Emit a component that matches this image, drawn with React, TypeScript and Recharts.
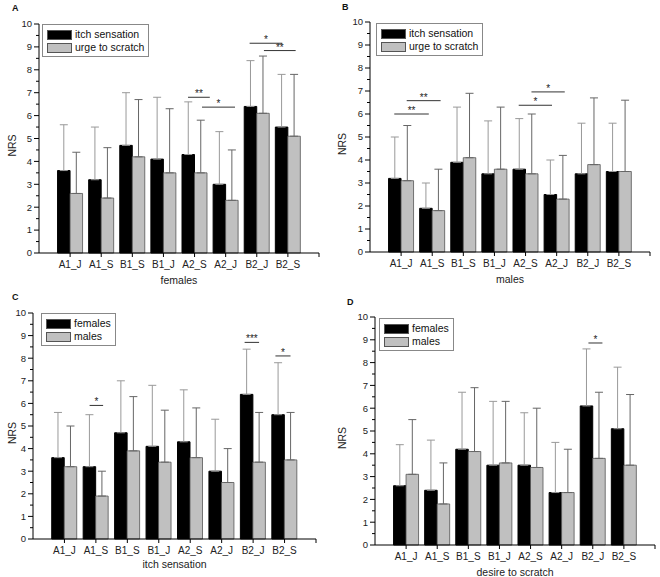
import React from 'react';
import {
  BarChart,
  Bar,
  XAxis,
  YAxis,
  ErrorBar,
  Legend,
  ReferenceLine,
  Label
} from 'recharts';

const categories = ['A1_J', 'A1_S', 'B1_S', 'B1_J', 'A2_S', 'A2_J', 'B2_J', 'B2_S'];

// means and SD (upper error only)
const femaleItch = [3.6, 3.2, 4.7, 4.1, 4.3, 3.0, 6.4, 5.5];
const femaleItchSd = [2.0, 2.3, 2.3, 2.7, 2.3, 2.3, 2.0, 2.3];
const femaleUrge = [2.6, 2.4, 4.2, 3.5, 3.5, 2.3, 6.1, 5.1];
const femaleUrgeSd = [1.8, 2.2, 2.5, 2.8, 2.3, 2.2, 2.5, 2.7];
const maleItch = [3.2, 1.9, 3.9, 3.4, 3.6, 2.5, 3.4, 3.5];
const maleItchSd = [1.8, 1.1, 2.4, 2.3, 2.2, 1.5, 2.2, 2.1];
const maleUrge = [3.1, 1.8, 4.1, 3.6, 3.4, 2.3, 3.8, 3.5];
const maleUrgeSd = [2.4, 1.8, 2.8, 2.7, 2.6, 1.9, 2.9, 3.1];

const yTicks = [0, 0.5, 1, 1.5, 2, 2.5, 3, 3.5, 4, 4.5, 5, 5.5, 6, 6.5, 7, 7.5, 8, 8.5, 9, 9.5, 10];
const xTicks = [1, 2, 3, 4, 5, 6, 7, 8, 9];

// significance bars: x in category units, y in NRS
const sigA = [
  { x1: 4.79, x2: 5.49, y: 6.8, text: '**' },
  { x1: 5.24, x2: 6.3, y: 6.37, text: '*' },
  { x1: 6.77, x2: 7.82, y: 9.16, text: '*' },
  { x1: 7.23, x2: 8.25, y: 8.84, text: '**' }
];
const sigB = [
  { x1: 0.78, x2: 1.89, y: 6.0, text: '**' },
  { x1: 1.18, x2: 2.27, y: 6.58, text: '**' },
  { x1: 4.78, x2: 5.85, y: 6.38, text: '*' },
  { x1: 5.19, x2: 6.26, y: 6.96, text: '*' }
];
const sigC = [
  { x1: 1.8, x2: 2.23, y: 5.91, text: '*' },
  { x1: 6.73, x2: 7.19, y: 8.7, text: '***' },
  { x1: 7.71, x2: 8.19, y: 8.1, text: '*' }
];
const sigD = [{ x1: 6.86, x2: 7.31, y: 8.86, text: '*' }];

const FONT = '"Liberation Sans", Arial, sans-serif';
const GRAY = '#c0c0c0';

const YTick = ({ x, y, payload }: any) => {
  const major = Number.isInteger(payload.value);
  return (
    <g>
      <line x1={x - (major ? 5 : 3)} x2={x} y1={y} y2={y} stroke="#000" />
      {major && (
        <text x={x - 7} y={y} dy="0.35em" textAnchor="end" fontSize={9.5} fill="#222">
          {payload.value}
        </text>
      )}
    </g>
  );
};

const LegendBox = ({ payload }: any) => (
  <div
    style={{
      border: '1px solid #888',
      padding: '3px 4px 2px 4px',
      background: '#fff',
      fontFamily: FONT,
      fontSize: 10.5,
      lineHeight: '13px',
      color: '#111'
    }}
  >
    {(payload || []).map((p: any, i: number) => (
      <div key={i} style={{ display: 'flex', alignItems: 'center' }}>
        <span
          style={{
            display: 'inline-block',
            width: 23,
            height: 8,
            background: i ? GRAY : '#000',
            border: '0.5px solid #555',
            marginRight: 3
          }}
        />
        {p.value}
      </div>
    ))}
  </div>
);

const Panel = ({
  letter, left, top, height, margin, yWidth, xHeight, titleOffset, title,
  names, s1, e1, s2, e2, sig, legendPos
}: any) => {
  const data = categories.map((c, i) => ({
    pos: i + 1,
    name: c,
    a: s1[i],
    aErr: [0, e1[i]],
    b: s2[i],
    bErr: [0, e2[i]]
  }));
  return (
    <div style={{ position: 'absolute', left, top, width: 330, height }}>
      <span
        style={{
          position: 'absolute', left: letter.x, top: letter.y, fontFamily: FONT,
          fontWeight: 'bold', fontSize: 9, color: '#111', lineHeight: 1
        }}
      >
        {letter.t}
      </span>
      <BarChart
        width={330}
        height={height}
        data={data}
        margin={margin}
        barGap={0}
        barSize={12.5}
        style={{ fontFamily: FONT }}
      >
        <XAxis
          type="number"
          dataKey="pos"
          domain={[0, 9]}
          ticks={xTicks}
          interval={0}
          tickFormatter={(v: number) => categories[v - 1] ?? ''}
          tickSize={4}
          tickMargin={4}
          height={xHeight}
          axisLine={{ stroke: '#000' }}
          tickLine={{ stroke: '#000' }}
          tick={{ fontSize: 10, fill: '#222' }}
        >
          <Label value={title} position="insideBottom" offset={titleOffset} fontSize={10.5} fill="#222" />
        </XAxis>
        <YAxis
          type="number"
          domain={[0, 10]}
          ticks={yTicks}
          interval={0}
          width={yWidth}
          tickSize={0}
          tickMargin={0}
          tickLine={false}
          axisLine={{ stroke: '#000' }}
          tick={<YTick />}
          label={{
            content: ({ viewBox }: any) => {
              const cx = viewBox.x + 12;
              const cy = viewBox.y + viewBox.height / 2 + 7;
              return (
                <text
                  x={cx}
                  y={cy}
                  transform={`rotate(-90 ${cx} ${cy})`}
                  textAnchor="middle"
                  dominantBaseline="central"
                  fontSize={10.5}
                  fill="#222"
                >
                  NRS
                </text>
              );
            }
          }}
        />
        <Legend
          layout="horizontal"
          verticalAlign="middle"
          align="center"
          content={<LegendBox />}
          wrapperStyle={{ left: legendPos.x, top: legendPos.y, width: 'auto', height: 'auto' }}
        />
        <Bar dataKey="a" name={names[0]} fill="#000" stroke="#000" isAnimationActive={false}>
          <ErrorBar dataKey="aErr" width={4} stroke="#999" strokeWidth={1} isAnimationActive={false} />
        </Bar>
        <Bar dataKey="b" name={names[1]} fill={GRAY} stroke="#555" strokeWidth={0.8} isAnimationActive={false}>
          <ErrorBar dataKey="bErr" width={4} stroke="#666" strokeWidth={1} isAnimationActive={false} />
        </Bar>
        {sig.map((s: any, i: number) => (
          <ReferenceLine
            key={i}
            segment={[{ x: s.x1, y: s.y }, { x: s.x2, y: s.y }]}
            stroke="#333"
            strokeWidth={1}
            label={{ value: s.text, position: 'top', offset: 0, fontSize: 10, fill: '#222' }}
          />
        ))}
      </BarChart>
    </div>
  );
};

export default function App() {
  return (
    <div style={{ position: 'absolute', left: 0, top: 0, width: 660, height: 577, background: '#fff', overflow: 'hidden' }}>
      <Panel
        letter={{ t: 'A', x: 12, y: 4 }}
        left={0} top={0} height={290}
        margin={{ top: 24, right: 11, left: 0, bottom: 2 }}
        yWidth={39} xHeight={35} titleOffset={4} title="females"
        names={['itch sensation', 'urge to scratch']}
        s1={femaleItch} e1={femaleItchSd} s2={femaleUrge} e2={femaleUrgeSd}
        sig={sigA} legendPos={{ x: 42, y: 24 }}
      />
      <Panel
        letter={{ t: 'B', x: 12, y: 3 }}
        left={330} top={0} height={290}
        margin={{ top: 22, right: 10, left: 0, bottom: 3 }}
        yWidth={40} xHeight={35} titleOffset={4} title="males"
        names={['itch sensation', 'urge to scratch']}
        s1={maleItch} e1={maleItchSd} s2={maleUrge} e2={maleUrgeSd}
        sig={sigB} legendPos={{ x: 46, y: 23 }}
      />
      <Panel
        letter={{ t: 'C', x: 12, y: 3 }}
        left={0} top={290} height={287}
        margin={{ top: 23, right: 14, left: 0, bottom: 6 }}
        yWidth={33} xHeight={32} titleOffset={3} title="itch sensation"
        names={['females', 'males']}
        s1={femaleItch} e1={femaleItchSd} s2={maleItch} e2={maleItchSd}
        sig={sigC} legendPos={{ x: 41, y: 23 }}
      />
      <Panel
        letter={{ t: 'D', x: 17, y: 8 }}
        left={330} top={290} height={287}
        margin={{ top: 27, right: 5, left: 0, bottom: 0 }}
        yWidth={45} xHeight={32} titleOffset={1.5} title="desire to scratch"
        names={['females', 'males']}
        s1={femaleUrge} e1={femaleUrgeSd} s2={maleUrge} e2={maleUrgeSd}
        sig={sigD} legendPos={{ x: 49, y: 28 }}
      />
    </div>
  );
}
